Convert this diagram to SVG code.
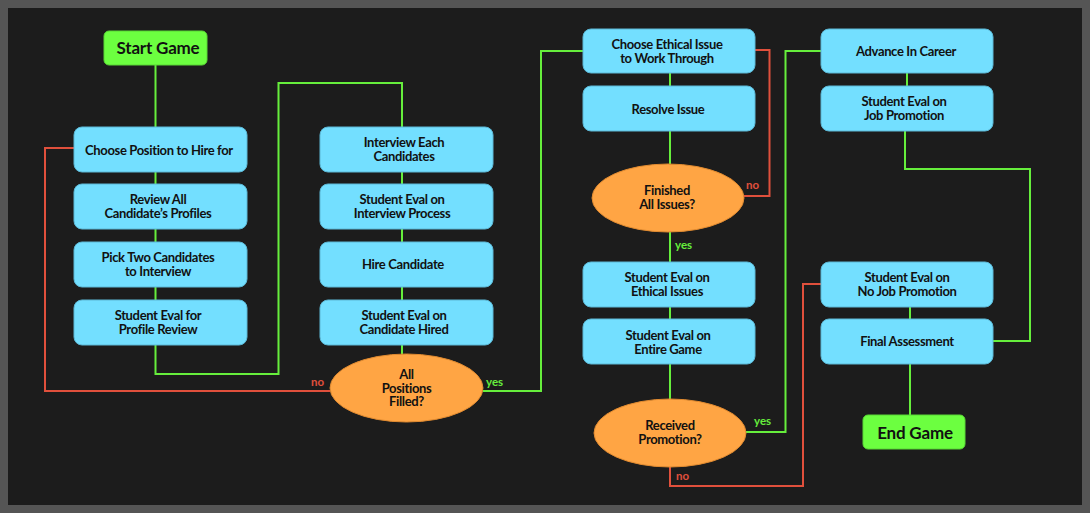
<svg xmlns="http://www.w3.org/2000/svg" width="1090" height="513" viewBox="0 0 1090 513">
<style>
.box{fill:#73dfff;stroke:#5cb8d6;stroke-width:1}
.term{fill:#6cff40;stroke:#58d634;stroke-width:1}
.dec{fill:#ffa544;stroke:#e08a30;stroke-width:1}
.t{font-family:Lato,"Open Sans",sans-serif;font-weight:bold;font-size:13px;fill:#111;text-anchor:middle;letter-spacing:-0.35px}
.tb{font-family:Lato,"Open Sans",sans-serif;font-weight:bold;font-size:17px;fill:#111;text-anchor:middle;letter-spacing:-0.2px}
.g{fill:none;stroke:#66ee3c;stroke-width:2}
.r{fill:none;stroke:#e0503c;stroke-width:2}
.lg{font-family:Lato,"Open Sans",sans-serif;font-weight:bold;font-size:11.5px;fill:#66ee3c}
.lr{font-family:Lato,"Open Sans",sans-serif;font-weight:bold;font-size:11.5px;fill:#e0503c}
</style>
<rect x="0" y="0" width="1090" height="513" fill="#555555"/>
<rect x="8" y="8" width="1074" height="497" fill="#1c1c1c"/>
<g id="connectors">
<path class="g" d="M155.5 65 V127"/>
<path class="g" d="M155.5 172 V184 M155.5 229 V242 M155.5 287 V300"/>
<path class="g" d="M155.5 345 V374 H278.5 V83 H402 V127"/>
<path class="g" d="M402 172 V184 M402 229 V242 M402 287 V300 M402 345 V355"/>
<path class="r" d="M330 391 H45 V148 H74"/>
<path class="g" d="M483 391 H541 V51 H583"/>
<path class="g" d="M670 73 V86 M670 131 V164"/>
<path class="r" d="M744 196 H769.5 V50 H755"/>
<path class="g" d="M670 232 V262 M670 307 V319 M670 364 V399"/>
<path class="g" d="M746 432 H785.5 V51 H821"/>
<path class="r" d="M670 467 V486 H803 V284 H821"/>
<path class="g" d="M907 73 V86"/>
<path class="g" d="M905 131 V169 H1030 V341 H993"/>
<path class="g" d="M910 307 V319"/>
<path class="g" d="M910 364 V415"/>
<text class="lr" x="311" y="386">no</text>
<text class="lg" x="486" y="386">yes</text>
<text class="lr" x="746" y="189">no</text>
<text class="lg" x="675" y="249">yes</text>
<text class="lg" x="754" y="425">yes</text>
<text class="lr" x="676" y="480">no</text>
</g>
<g id="start"><rect class="term" x="104" y="31" width="103" height="34" rx="5"/><text class="tb" x="158" y="54">Start Game</text></g>
<g id="choose-position"><rect class="box" x="74" y="127" width="173" height="45" rx="8"/><text class="t" x="159" y="154.5">Choose Position to Hire for</text></g>
<g id="review-profiles"><rect class="box" x="74" y="184" width="173" height="45" rx="8"/><text class="t" x="158" y="204">Review All</text><text class="t" x="158" y="217.5">Candidate’s Profiles</text></g>
<g id="pick-two"><rect class="box" x="74" y="242" width="173" height="45" rx="8"/><text class="t" x="158" y="262">Pick Two Candidates</text><text class="t" x="158" y="275.5">to Interview</text></g>
<g id="eval-profile"><rect class="box" x="74" y="300" width="173" height="45" rx="8"/><text class="t" x="158" y="320">Student Eval for</text><text class="t" x="158" y="333.5">Profile Review</text></g>
<g id="interview"><rect class="box" x="320" y="127" width="173" height="45" rx="8"/><text class="t" x="404" y="147">Interview Each</text><text class="t" x="404" y="160.5">Candidates</text></g>
<g id="eval-interview"><rect class="box" x="320" y="184" width="173" height="45" rx="8"/><text class="t" x="402" y="204">Student Eval on</text><text class="t" x="402" y="217.5">Interview Process</text></g>
<g id="hire"><rect class="box" x="320" y="242" width="173" height="45" rx="8"/><text class="t" x="403" y="269">Hire Candidate</text></g>
<g id="eval-hired"><rect class="box" x="320" y="300" width="173" height="45" rx="8"/><text class="t" x="404" y="320">Student Eval on</text><text class="t" x="404" y="333.5">Candidate Hired</text></g>
<g id="all-filled"><ellipse class="dec" cx="406.5" cy="388" rx="76.5" ry="34"/><text class="t" x="406.5" y="379">All</text><text class="t" x="406.5" y="392.5">Positions</text><text class="t" x="406.5" y="406">Filled?</text></g>
<g id="choose-ethical"><rect class="box" x="583" y="29" width="172" height="44" rx="8"/><text class="t" x="667" y="49">Choose Ethical Issue</text><text class="t" x="667" y="62.5">to Work Through</text></g>
<g id="resolve"><rect class="box" x="583" y="86" width="172" height="45" rx="8"/><text class="t" x="668" y="113.5">Resolve Issue</text></g>
<g id="finished"><ellipse class="dec" cx="668" cy="198" rx="76" ry="34"/><text class="t" x="667" y="195">Finished</text><text class="t" x="667" y="208.5">All Issues?</text></g>
<g id="eval-ethical"><rect class="box" x="583" y="262" width="172" height="45" rx="8"/><text class="t" x="667" y="282">Student Eval on</text><text class="t" x="667" y="295.5">Ethical Issues</text></g>
<g id="eval-game"><rect class="box" x="583" y="319" width="172" height="45" rx="8"/><text class="t" x="668" y="340">Student Eval on</text><text class="t" x="668" y="353.5">Entire Game</text></g>
<g id="received"><ellipse class="dec" cx="670" cy="433" rx="76" ry="34"/><text class="t" x="670" y="430">Received</text><text class="t" x="670" y="443.5">Promotion?</text></g>
<g id="advance"><rect class="box" x="821" y="29" width="172" height="44" rx="8"/><text class="t" x="906" y="56">Advance In Career</text></g>
<g id="eval-promotion"><rect class="box" x="821" y="86" width="172" height="45" rx="8"/><text class="t" x="904" y="106">Student Eval on</text><text class="t" x="904" y="119.5">Job Promotion</text></g>
<g id="eval-no-promotion"><rect class="box" x="821" y="262" width="172" height="45" rx="8"/><text class="t" x="907" y="282">Student Eval on</text><text class="t" x="907" y="295.5">No Job Promotion</text></g>
<g id="final"><rect class="box" x="821" y="319" width="172" height="45" rx="8"/><text class="t" x="907" y="346">Final Assessment</text></g>
<g id="end"><rect class="term" x="863" y="415" width="102" height="34" rx="5"/><text class="tb" x="915" y="439">End Game</text></g>
</svg>
